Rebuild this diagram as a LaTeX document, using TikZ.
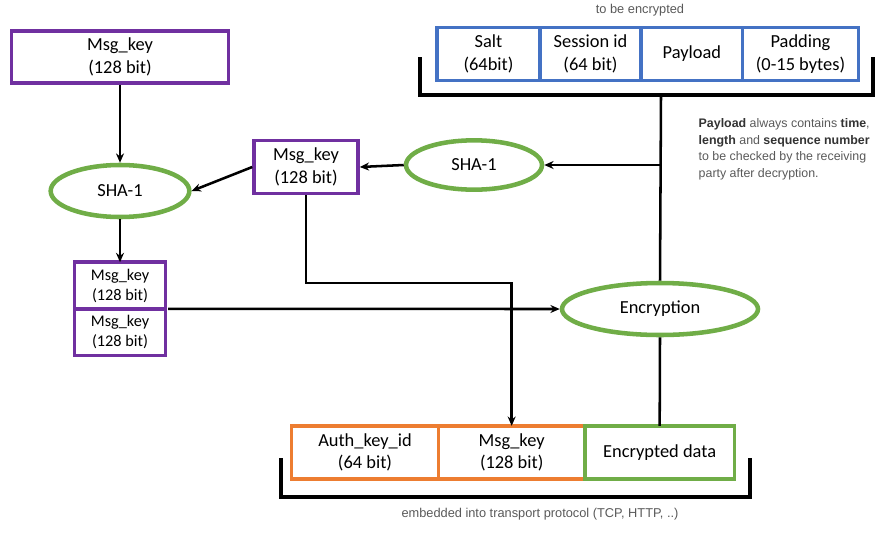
\documentclass[tikz,border=0pt]{standalone}
\usepackage{fontspec}
\setmainfont{Carlito}
\newfontfamily\arialfont{Liberation Sans}
\usetikzlibrary{shapes.geometric,arrows.meta,positioning}

\definecolor{keypurple}{HTML}{7030A0}
\definecolor{hashgreen}{HTML}{70AD47}
\definecolor{cellblue}{HTML}{4472C4}
\definecolor{hdrorange}{HTML}{ED7D31}
\definecolor{notegray}{HTML}{595959}

\begin{document}
\begin{tikzpicture}[
  x=0.75pt, y=-0.75pt,
  font=\fontsize{13.8}{17}\selectfont,
  keybox/.style={rectangle, draw=keypurple, line width=2.6pt, fill=white,
                 align=center, inner sep=2pt},
  hash/.style={ellipse, draw=hashgreen, line width=3.4pt, fill=white,
               minimum width=104pt, minimum height=39pt, inner sep=0pt},
  cell/.style={rectangle, draw=cellblue, line width=2.6pt, fill=white,
               align=center, minimum height=40pt, outer sep=0pt, inner sep=1pt},
  hdr/.style={rectangle, draw=hdrorange, line width=2.6pt, fill=white,
              align=center, minimum width=110pt, minimum height=40pt,
              outer sep=0pt, inner sep=1pt},
  brace/.style={line width=2.6pt},
  note/.style={font=\arialfont\fontsize{9.6}{11}\selectfont, text=notegray},
  arr/.style={-{Stealth[length=7pt,width=6pt]}, line width=1.9pt},
  link/.style={line width=1.9pt},
]
\useasboundingbox (0,0) rectangle (891,532);

% message key path
\node[keybox, minimum width=163pt, minimum height=39pt] (mktop) at (120,57) {Msg\_key\\(128 bit)};
\node[hash] (shaL) at (120,191) {SHA-1};
\node[keybox, minimum width=78pt, minimum height=40pt] (mkmid) at (306,167) {Msg\_key\\(128 bit)};
\node[hash, minimum width=102pt, minimum height=37pt] (shaR) at (474,165) {SHA-1};
\node[keybox, minimum width=68pt, minimum height=35pt, outer sep=0pt,
      font=\fontsize{12.2}{15}\selectfont] (stka) at (120,285.5) {Msg\_key\\(128 bit)};
\node[keybox, minimum width=68pt, minimum height=35pt, outer sep=0pt,
      font=\fontsize{12.2}{15}\selectfont, below=0pt of stka] (stkb) {Msg\_key\\(128 bit)};
\node[hash, minimum width=147pt] (enc) at (660,309) {Encryption};

% plaintext cells
\node[cell, minimum width=77pt] (salt) at (488.5,54) {Salt\\(64bit)};
\node[cell, minimum width=76pt, right=0pt of salt] (sess) {Session id\\(64 bit)};
\node[cell, minimum width=76pt, right=0pt of sess] (pay) {Payload};
\node[cell, minimum width=87pt, right=0pt of pay] (pad) {Padding\\(0-15 bytes)};

% transport header
\node[hdr] (akid) at (365,452.5) {Auth\_key\_id\\(64 bit)};
\node[hdr, right=0pt of akid] (mkbot) {Msg\_key\\(128 bit)};
\node[hdr, draw=hashgreen, minimum width=112pt, right=0pt of mkbot] (encdata) {Encrypted data};

% brackets
\draw[brace] (420,57) -- (420,95) -- (873,95) -- (873,57);
\draw[brace] (281,458) -- (281,497) -- (750,497) -- (750,458);
\coordinate (stem) at (661,95);
\coordinate (fork) at (661,165);

% labels
\node[note] (tbe) at (640,10) {to be encrypted};
\node[note] (emb) at (540,514) {embedded into transport protocol (TCP, HTTP, ..)};
\node[note, anchor=north west, align=left,
      font=\arialfont\fontsize{9.3}{12.4}\selectfont] (info) at (694,114)
  {\textbf{\color{black!80}Payload} always contains \textbf{\color{black!80}time},\\
   \textbf{\color{black!80}length} and \textbf{\color{black!80}sequence number}\\
   to be checked by the receiving\\ party after decryption.};

% connectors
\draw[arr] (mktop) -- (shaL);
\draw[arr] (mkmid.west) -- (shaL.east);
\draw[arr] (shaL) -- (stka);
\draw[link] (stem) -- (enc.north);
\draw[arr] (fork) -- (shaR.east);
\draw[arr] (shaR.west) -- (mkmid.east);
\draw[arr] ([xshift=2pt]stka.south east) -- (enc.west);
\draw[arr] (mkmid.south) |- (400,283) -| (mkbot.north);
\draw[link] (enc.south) -- (encdata.north);

\end{tikzpicture}
\end{document}
